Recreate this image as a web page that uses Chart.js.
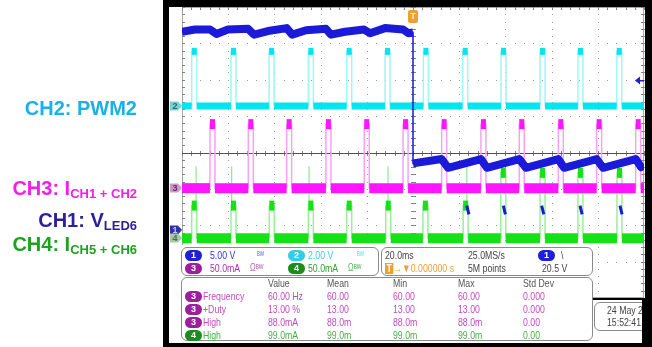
<!DOCTYPE html>
<html>
<head>
<meta charset="utf-8">
<title>PWM2 / LED6 scope capture</title>
<script src="https://cdn.jsdelivr.net/npm/chart.js@4.4.1/dist/chart.umd.min.js"></script>
<style>
  html, body { margin: 0; padding: 0; background: #fff; }
  #page { position: relative; width: 652px; height: 347px; overflow: hidden; }
  #scope { position: absolute; left: 0; top: 0; }
  .bar { position: absolute; background: #000; }
  .lbl { position: absolute; right: 515px; font: bold 20px "Liberation Sans", Arial, sans-serif; line-height: 20px; white-space: nowrap; }
  .lbl sub { font-size: 13px; vertical-align: -3px; line-height: 0; }
  .sheet { position: absolute; background: #fff; }
  .box { position: absolute; background: #fff; border: 1px solid #8a8a8a; border-radius: 6px; box-sizing: border-box; }
  .t { position: absolute; font: 11.5px "Liberation Sans", Arial, sans-serif; line-height: 12px; white-space: nowrap; transform: scaleX(0.76); transform-origin: 0 50%; color: #555; }
  .pill { position: absolute; width: 17px; height: 11px; border-radius: 6px; color: #fff; font: bold 9px "Liberation Sans", Arial, sans-serif; line-height: 11px; text-align: center; }
  .tg { display: inline-block; background: #f0a030; color: #fff; font-weight: bold; padding: 0 2px; line-height: 11px; }
</style>
</head>
<body>
<div id="page">
  <canvas id="scope" width="652" height="347"></canvas>

  <div class="lbl" style="top:98px;color:#1cb0e6">CH2: PWM2</div>
  <div class="lbl" style="top:178px;color:#f020e8">CH3: I<sub>CH1 + CH2</sub></div>
  <div class="lbl" style="top:210px;color:#2c1f9e">CH1: V<sub>LED6</sub></div>
  <div class="lbl" style="top:234px;color:#1fa21f">CH4: I<sub>CH5 + CH6</sub></div>

  <!-- readout area under the graticule -->
  <div class="sheet" style="left:181px;top:245px;width:412px;height:98px"></div>
  <div class="sheet" style="left:593px;top:298px;width:52px;height:45px"></div>
  <div class="bar" style="left:593px;top:298px;width:52px;height:2px"></div>
  <div class="box" style="left:181px;top:247px;width:198px;height:29px"></div>
  <div class="box" style="left:381px;top:247px;width:212px;height:29px"></div>
  <div class="box" style="left:181px;top:277px;width:412px;height:64px"></div>
  <div class="box" style="left:594px;top:302px;width:70px;height:29px"></div>
  <div id="readout"></div>

  <div class="bar" style="left:163px;top:0;width:6px;height:347px"></div>
  <div class="bar" style="left:163px;top:0;width:489px;height:7px"></div>
  <div class="bar" style="left:645px;top:0;width:7px;height:347px"></div>
  <div class="bar" style="left:642px;top:298px;width:10px;height:49px"></div>
  <div class="bar" style="left:163px;top:343px;width:489px;height:4px"></div>
</div>

<script>
// graticule: 10 x 8 divisions, 20 ms/div, trigger at the centre
const timeDivs = [-100, -80, -60, -40, -20, 0, 20, 40, 60, 80, 100];
const voltDivs = [-4, -3, -2, -1, 0, 1, 2, 3, 4];

// PWM measured on CH3
const pwmFreq = 60;   // Hz
const pwmDuty = 13;   // %
const pulseWidth = pwmDuty / 100 * 1000 / pwmFreq;   // ms

// CH2 PWM2: rising edges (ms), low / high (V)
const ch2Rise = [-95.8, -78.8, -62.3, -45.3, -28.7, -12.1, 4.5, 21.5, 38.1, 55.0, 71.4, 88.2];
const ch2Low = 0;
const ch2High = 3.0;

// CH3 I(CH1+CH2): rising edges (ms), low / high (mA)
const ch3Rise = [-87.9, -71.3, -54.7, -37.7, -21.1, -4.3, 12.4, 29.4, 46.0, 62.9, 79.5, 96.4];
const ch3Low = 0;
const ch3High = 88;

// CH4 I(CH5+CH6): rising edges (ms), pulse tops (mA), overshoot spikes
const ch4Rise = [-95.8, -78.8, -62.2, -45.3, -28.7, -11.8, 4.3, 21.7, 38.0, 55.0, 71.4, 88.3];
const ch4High = [45, 45, 45, 45, 45, 45, 45, 45, 90, 90, 90, 90];
const ch4Low = 0;
const ch4Spikes = [-93.9, -78.5, -45.0, -10.8, 23.3];
const ch4SpikeTop = 99;

// CH1 V(LED6): time (ms) and voltage (V)
const ch1Time = [-100, -94.4, -87.9, -85.1, -80.1, -71.4, -68.8, -62.8, -54.7, -52.3, -46.3, -37.7,
  -35.5, -29.4, -21.2, -18.6, -12.1, -4.3, -2.0, 0, 0, 12.4, 15.2, 29.4, 32.0, 46.0, 48.9,
  62.9, 65.4, 79.5, 82.3, 96.4, 98.7, 100];
const ch1Volt = [27.2, 27.5, 27.5, 26.9, 27.5, 27.6, 26.8, 27.3, 27.7, 26.8, 27.4, 27.6,
  26.8, 27.2, 27.5, 27.0, 27.7, 27.5, 27.0, 27.1, 9.1, 9.7, 8.5, 9.7, 8.5, 9.7, 8.5,
  9.7, 8.5, 9.7, 8.5, 9.7, 8.6, 8.8];
const ch1DipTime = [23.3, 39.1, 55.7, 72.3, 89.6];
const ch1DipVolt = [3.3, 2.1];
const trigLevel = 20.5;   // V on CH1

// measurement table
const measHeads = ['Value', 'Mean', 'Min', 'Max', 'Std Dev'];
const measNames = ['Frequency', '+Duty', 'High', 'High'];
const measSource = ['3', '3', '3', '4'];
const measValues = [
  ['60.00 Hz', '60.00', '60.00', '60.00', '0.000'],
  ['13.00 %', '13.00', '13.00', '13.00', '0.000'],
  ['88.0mA', '88.0m', '88.0m', '88.0m', '0.00'],
  ['99.0mA', '99.0m', '99.0m', '99.0m', '0.00']
];

// vertical setup: units per division and ground position in divisions
const ch1 = { perDiv: 5, ground: -2.12 };
const ch2 = { perDiv: 2, ground: 1.28 };
const ch3 = { perDiv: 50, ground: -0.98 };
const ch4 = { perDiv: 50, ground: -2.36 };

function level(v, ch) {
  return v / ch.perDiv + ch.ground;
}

function pulseTrain(rises, low, highs, ch) {
  const lo = level(low, ch);
  const pts = [{ x: -100, y: lo }];
  rises.forEach((t, i) => {
    const hi = level(Array.isArray(highs) ? highs[i] : highs, ch);
    pts.push({ x: t, y: lo }, { x: t, y: hi }, { x: t + pulseWidth, y: hi }, { x: t + pulseWidth, y: lo });
  });
  pts.push({ x: 100, y: lo });
  return pts;
}

// thick band for the flat parts, vertical edges left to the thin line underneath
const hideEdges = { borderColor: c => c.p0.parsed.x === c.p1.parsed.x ? 'rgba(0,0,0,0)' : undefined };

function trace(pts, color, edge, width, order) {
  return [
    { data: pts, borderColor: edge, borderWidth: 1.5, order: order + 0.5 },
    { data: pts, borderColor: color, borderWidth: width, order, segment: hideEdges }
  ];
}

const ch1Pts = ch1Time.map((t, i) => ({ x: t, y: level(ch1Volt[i], ch1) }));
const ch1Dips = [];
ch1DipTime.forEach(t => {
  ch1Dips.push({ x: t, y: level(ch1DipVolt[0], ch1) }, { x: t + 0.9, y: level(ch1DipVolt[1], ch1) }, { x: t + 0.9, y: null });
});
const ch4SpikePts = [];
ch4Spikes.forEach(t => {
  const i = ch4Rise.findIndex(r => t >= r - 1 && t <= r + pulseWidth + 1);
  ch4SpikePts.push({ x: t, y: level(ch4High[i], ch4) }, { x: t, y: level(ch4SpikeTop, ch4) }, { x: t, y: null });
});

const datasets = [
  ...trace(pulseTrain(ch4Rise, ch4Low, ch4High, ch4), '#16e016', '#9af09a', 10, 8),
  { data: ch4SpikePts, borderColor: '#8ee88e', borderWidth: 1.2, order: 9 },
  ...trace(pulseTrain(ch3Rise, ch3Low, ch3High, ch3), '#ff14ff', '#f7a2f7', 10, 6),
  ...trace(pulseTrain(ch2Rise, ch2Low, ch2High, ch2), '#00e6f0', '#9ef6f8', 7, 4),
  { data: ch1Pts, borderColor: '#1a1ad8', borderWidth: 1.5, order: 2.5 },
  { data: ch1Pts, borderColor: '#1a1ad8', borderWidth: 8, order: 2, borderJoinStyle: 'round', segment: hideEdges },
  { data: ch1Dips, borderColor: '#1a1ad8', borderWidth: 3, order: 1 }
];

const graticule = {
  id: 'graticule',
  beforeDatasetsDraw(chart) {
    const { ctx, chartArea: a, scales: { x, y } } = chart;
    const px = v => Math.round(x.getPixelForValue(v));
    const py = v => Math.round(y.getPixelForValue(v));
    ctx.save();
    // dotted division lines, a dot every fifth of a division
    ctx.fillStyle = '#9a9a9a';
    timeDivs.forEach(t => {
      for (let k = 0; k <= 40; k++) ctx.fillRect(px(t), py(-4 + k / 5), 1, 1);
    });
    voltDivs.forEach(v => {
      for (let k = 0; k <= 50; k++) ctx.fillRect(px(-100 + k * 4), py(v), 1, 1);
    });
    ctx.strokeStyle = '#a8a8a8';
    ctx.lineWidth = 1;
    ctx.strokeRect(a.left + 0.5, a.top + 0.5, a.width - 1, a.height - 1);
    // minor ticks on the border and the centre axes
    ctx.fillStyle = '#808080';
    for (let k = 0; k <= 40; k++) {
      const yy = py(-4 + k / 5);
      ctx.fillRect(a.left, yy, 3, 1);
      ctx.fillRect(a.right - 3, yy, 3, 1);
      ctx.fillRect(px(0) - 2, yy, 5, 1);
    }
    for (let k = 0; k <= 50; k++) {
      const xx = px(-100 + k * 4);
      ctx.fillRect(xx, a.top, 1, 3);
      ctx.fillRect(xx, py(0) - 2, 1, 5);
    }
    ctx.fillStyle = '#505050';
    ctx.fillRect(a.left, py(0), a.width, 1);
    ctx.restore();
  }
};

// channel ground tags, trigger position and trigger level markers
const tags = [
  { ch: ch2, label: '2', fill: '#7ccfd6', text: '#2a6a70' },
  { ch: ch3, label: '3', fill: '#cc98cc', text: '#6a2a6a' },
  { ch: ch1, label: '1', fill: '#3030a8', text: '#c8c8ff' },
  { ch: ch4, label: '4', fill: '#a4c8a4', text: '#4e6e4e' }
];

const markers = {
  id: 'markers',
  afterDatasetsDraw(chart) {
    const { ctx, chartArea: a, scales: { x, y } } = chart;
    ctx.save();
    ctx.font = 'bold 9px "Liberation Sans", Arial, sans-serif';
    ctx.textAlign = 'center';
    ctx.textBaseline = 'middle';
    tags.forEach(tg => {
      const py = Math.round(y.getPixelForValue(tg.ch.ground));
      ctx.beginPath();
      ctx.moveTo(a.left - 12, py - 4.5);
      ctx.lineTo(a.left - 4, py - 4.5);
      ctx.lineTo(a.left, py);
      ctx.lineTo(a.left - 4, py + 4.5);
      ctx.lineTo(a.left - 12, py + 4.5);
      ctx.closePath();
      ctx.fillStyle = tg.fill;
      ctx.fill();
      ctx.fillStyle = tg.text;
      ctx.fillText(tg.label, a.left - 7, py + 0.5);
    });

    const tx = x.getPixelForValue(0);
    ctx.fillStyle = '#f0a030';
    ctx.beginPath();
    ctx.roundRect(tx - 5, a.top + 3, 10, 13, 2);
    ctx.fill();
    ctx.fillStyle = '#fff3d8';
    ctx.fillText('T', tx, a.top + 10);

    const ly = y.getPixelForValue(level(trigLevel, ch1));
    ctx.fillStyle = '#2020d0';
    ctx.beginPath();
    ctx.moveTo(a.right - 9, ly);
    ctx.lineTo(a.right - 4, ly - 4);
    ctx.lineTo(a.right - 4, ly + 4);
    ctx.closePath();
    ctx.fill();
    ctx.fillRect(a.right - 5, ly - 0.5, 5, 1.5);
    ctx.restore();
  }
};

new Chart(document.getElementById('scope'), {
  type: 'line',
  data: { datasets },
  options: {
    responsive: false,
    animation: false,
    events: [],
    layout: { padding: { left: 182, top: 7, right: 8, bottom: 49 } },
    scales: {
      x: { type: 'linear', min: -100, max: 100, display: false },
      y: { type: 'linear', min: -4, max: 4, display: false }
    },
    elements: {
      point: { radius: 0 },
      line: { tension: 0, borderCapStyle: 'butt', borderJoinStyle: 'miter', fill: false }
    },
    plugins: { legend: { display: false }, tooltip: { enabled: false } }
  },
  plugins: [graticule, markers]
});

// readout text
const readout = document.getElementById('readout');
function put(text, left, top, color, size) {
  const s = document.createElement('span');
  s.className = 't';
  s.style.left = left + 'px';
  s.style.top = top + 'px';
  if (color) s.style.color = color;
  if (size) s.style.fontSize = size;
  s.innerHTML = text;
  readout.appendChild(s);
}
function pill(label, left, top, bg) {
  const s = document.createElement('span');
  s.className = 'pill';
  s.style.left = left + 'px';
  s.style.top = top + 'px';
  s.style.background = bg;
  s.textContent = label;
  readout.appendChild(s);
}

pill('1', 185, 250, '#1f1fd8');
put('5.00 V', 210, 249, '#3434e0');
put('ᴮᵂ', 257, 249, '#6a6ae6', '9px');
pill('2', 288, 250, '#33cfe0');
put('2.00 V', 308, 249, '#36cde0');
put('ᴮᵂ', 357, 249, '#70dae6', '9px');
pill('3', 185, 263, '#9c1f9c');
put('50.0mA', 210, 262, '#a833a8');
put('Ωᴮᵂ', 250, 262, '#b060b0', '10px');
pill('4', 288, 263, '#1c8c1c');
put('50.0mA', 308, 262, '#2fa02f');
put('Ωᴮᵂ', 348, 262, '#50b050', '10px');

put('20.0ms', 385, 249, '#444');
put('<span class="tg">T</span>→▼0.000000 s', 385, 262, '#f0a030');
put('25.0MS/s', 468, 249, '#444');
put('5M points', 468, 262, '#444');
pill('1', 538, 250, '#1f1fd8');
put('\\', 561, 249, '#444');
put('20.5 V', 542, 262, '#444');

const colX = [268, 327, 393, 458, 523];
measHeads.forEach((h, j) => put(h, colX[j], 277, '#555'));
measNames.forEach((name, i) => {
  const top = 290 + i * 13;
  const green = measSource[i] === '4';
  pill(measSource[i], 185, top + 1, green ? '#1c8c1c' : '#9c1f9c');
  const col = green ? '#46b046' : '#c04cc0';
  put(name, 203, top, col);
  measValues[i].forEach((v, j) => put(v, colX[j], top, col));
});

put('24 May 2014', 607, 304, '#444');
put('15:52:41', 607, 316, '#444');
</script>
</body>
</html>
